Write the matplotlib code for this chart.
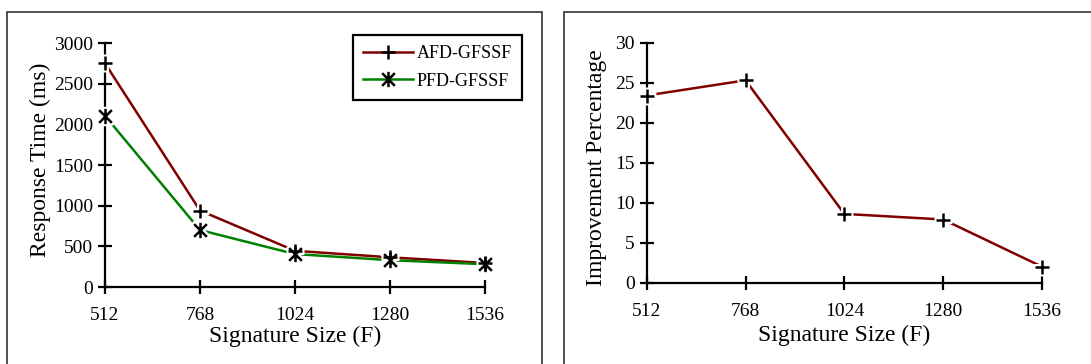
"""
Response time and improvement of AFD-GFSSF vs PFD-GFSSF over signature size.
"""

import matplotlib.pyplot as plt
from matplotlib.patches import Rectangle
from matplotlib.path import Path

sizes = [512, 768, 1024, 1280, 1536]
afd_ms = [2750, 940, 445, 365, 295]
pfd_ms = [2105, 700, 405, 330, 280]
improvement = [23.4, 25.3, 8.6, 7.9, 2.0]

RED = "#800000"
GREEN = "#008000"
INK = "black"

plt.rcParams["font.family"] = ["Liberation Serif", "DejaVu Serif"]

# asterisk-style marker: an X crossed by a vertical bar
STAR = Path(
    [(-1, -1), (1, 1), (-1, 1), (1, -1), (0, -1.2), (0, 1.2)],
    [Path.MOVETO, Path.LINETO, Path.MOVETO, Path.LINETO, Path.MOVETO, Path.LINETO],
)


def style_axes(ax, ylim, yticks):
    ax.set_xlim(sizes[0], sizes[-1])
    ax.set_ylim(*ylim)
    ax.set_xticks(sizes)
    ax.set_yticks(yticks)
    for side in ("top", "right"):
        ax.spines[side].set_visible(False)
    for side in ("left", "bottom"):
        ax.spines[side].set_linewidth(1.6)
        ax.spines[side].set_zorder(2)
    ax.tick_params(axis="both", direction="inout", length=9.5, width=1.6,
                   labelsize=14, colors=INK)
    ax.tick_params(axis="x", pad=10)
    ax.tick_params(axis="y", pad=4)


def plot_series(ax, y, color, marker, label=None, size=9):
    ax.plot(sizes, y, color=color, linewidth=1.8, zorder=1, label=label,
            marker=marker, markersize=size, markeredgewidth=1.8,
            markeredgecolor=INK, markerfacecolor="none", clip_on=False)
    # white halo keeps the line and axis clear of the marker
    ax.plot(sizes, y, linestyle="none", marker=marker, markersize=size + 3,
            markeredgewidth=5, markeredgecolor="white", zorder=3, clip_on=False)
    ax.plot(sizes, y, linestyle="none", marker=marker, markersize=size,
            markeredgewidth=1.8, markeredgecolor=INK, zorder=4, clip_on=False)


fig = plt.figure(figsize=(10.91, 3.64), dpi=100)
fig.patch.set_facecolor("white")

# outer panel frames
for x0, x1 in ((7, 542), (564, 1200)):
    fig.add_artist(Rectangle((x0 / 1091, -0.1), (x1 - x0) / 1091, 1.1 - 12 / 364,
                             transform=fig.transFigure, fill=False,
                             edgecolor="#222222", linewidth=1.1))

# ---- left: response time ----
ax1 = fig.add_axes([105 / 1091, 77 / 364, 380 / 1091, 244 / 364])
style_axes(ax1, (0, 3000), range(0, 3001, 500))
plot_series(ax1, afd_ms, RED, "+", label="AFD-GFSSF", size=10)
plot_series(ax1, pfd_ms, GREEN, STAR, label="PFD-GFSSF", size=11)
ax1.set_xlabel("Signature Size (F)", fontsize=17, va="center")
ax1.xaxis.set_label_coords(0.5, -0.202)
ax1.set_ylabel("Response Time (ms)", fontsize=17, va="center")
ax1.yaxis.set_label_coords(-0.171, 0.52)
leg = ax1.legend(loc="upper right", bbox_to_anchor=(522 / 1091, 329 / 364),
                 bbox_transform=fig.transFigure, fontsize=13, fancybox=False,
                 handlelength=2.8, handletextpad=0.2, borderpad=0.55,
                 labelspacing=0.6, borderaxespad=0, framealpha=1)
leg.get_frame().set_edgecolor(INK)
leg.get_frame().set_linewidth(1.6)

# ---- right: improvement percentage ----
ax2 = fig.add_axes([646.7 / 1091, 81.3 / 364, 395.3 / 1091, 240 / 364])
style_axes(ax2, (0, 30), range(0, 31, 5))
plot_series(ax2, improvement, RED, "+", size=10)
ax2.set_xlabel("Signature Size (F)", fontsize=17, va="center")
ax2.xaxis.set_label_coords(0.5, -0.22)
ax2.set_ylabel("Improvement Percentage", fontsize=17, va="center")
ax2.yaxis.set_label_coords(-0.126, 0.478)

fig.savefig("out.png", dpi=100, facecolor="white")
